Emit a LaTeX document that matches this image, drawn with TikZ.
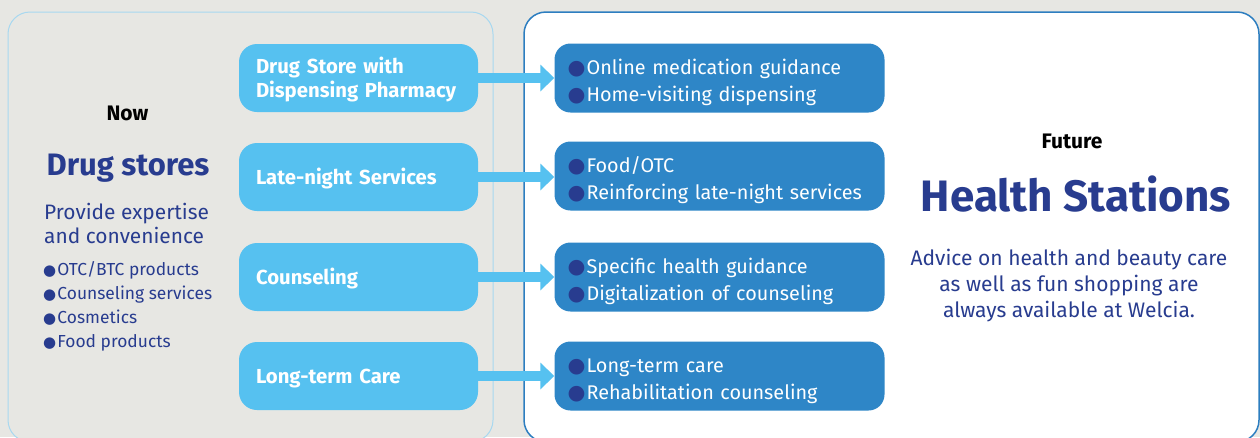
\documentclass[tikz,border=0pt]{standalone}
\usepackage{fontspec}
\setmainfont{Fira Sans}
\newfontfamily\dejavu{DejaVu Sans}
\usetikzlibrary{arrows.meta}
\definecolor{bg}{HTML}{E7E7E3}
\definecolor{lpanel}{HTML}{A8D8F0}
\definecolor{rpanel}{HTML}{2D7EC0}
\definecolor{lightb}{HTML}{56C1F0}
\definecolor{darkb}{HTML}{2E86C7}
\definecolor{navy}{HTML}{283C8F}
\newcommand\bigdot{{\color{navy}\dejavu\fontsize{20.5}{20.5}\selectfont ●}\hspace{1.2pt}}
\newcommand\smalldot{{\color{navy}\dejavu\fontsize{15}{15}\selectfont ●}\hspace{1.2pt}}
\begin{document}
\begin{tikzpicture}[x=1pt,y=-1pt,
  lbox/.style={fill=lightb, rounded corners=18pt, minimum width=239pt, minimum height=68pt,
    text width=205pt, inner xsep=17pt, align=left, text=white,
    text height=14pt, text depth=0pt,
    font=\bfseries\fontsize{20.3}{24}\selectfont},
  dbox/.style={fill=darkb, rounded corners=16pt, minimum width=330pt, minimum height=69pt,
    text width=304pt, inner xsep=13pt, align=left, text=white,
    text height=18pt, text depth=25pt,
    font=\fontsize{19.8}{26.5}\selectfont},
  conn/.style={draw=lightb, line width=10pt, -{Triangle[length=14pt,width=26pt]}},
  navytxt/.style={text=navy, inner sep=0pt},
]
\fill[bg] (0,0) rectangle (1260,437);
\useasboundingbox (0,0) rectangle (1260,437);
\draw[lpanel, line width=1pt, rounded corners=22pt, fill=bg] (8,12) rectangle (493,442);
\draw[rpanel, line width=1.5pt, rounded corners=22pt, fill=white] (524,12) rectangle (1259,442);

% left texts
\node[anchor=base, font=\bfseries\fontsize{21}{21}\selectfont, inner sep=0pt] (now) at (127.5,120) {Now};
\node[navytxt, anchor=base, font=\bfseries\fontsize{31}{31}\selectfont] (ds) at (128,175) {Drug stores};
\node[navytxt, anchor=base west, font=\fontsize{20.9}{20.9}\selectfont] (pe1) at (44,219) {Provide expertise};
\node[navytxt, anchor=base west, font=\fontsize{20.9}{20.9}\selectfont] (pe2) at (44,243) {and convenience};
\node[navytxt, anchor=base west, font=\fontsize{17.4}{17.4}\selectfont] (b1) at (43,275) {\smalldot OTC/BTC products};
\node[navytxt, anchor=base west, font=\fontsize{17.4}{17.4}\selectfont] (b2) at (43,299) {\smalldot Counseling services};
\node[navytxt, anchor=base west, font=\fontsize{17.4}{17.4}\selectfont] (b3) at (43,323) {\smalldot Cosmetics};
\node[navytxt, anchor=base west, font=\fontsize{17.4}{17.4}\selectfont] (b4) at (43,347) {\smalldot Food products};

% light boxes
\node[lbox, text depth=24pt] (l1) at (358.5,78) {\mbox{Drug Store with}\\\mbox{Dispensing Pharmacy}};
\node[lbox] (l2) at (358.5,177) {\mbox{Late-night Services}};
\node[lbox] (l3) at (358.5,277) {\mbox{Counseling}};
\node[lbox] (l4) at (358.5,376) {\mbox{Long-term Care}};

% dark boxes
\node[dbox] (d1) at (719.5,78) {\bigdot Online medication guidance\\\bigdot Home-visiting dispensing};
\node[dbox] (d2) at (719.5,176) {\bigdot Food/OTC\\\bigdot Reinforcing late-night services};
\node[dbox] (d3) at (719.5,277) {\bigdot Specific health guidance\\\bigdot Digitalization of counseling};
\node[dbox] (d4) at (719.5,376) {\bigdot Long-term care\\\bigdot Rehabilitation counseling};

% connectors
\draw[conn] (l1.east) -- (l1.east -| d1.west);
\draw[conn] (l2.east) -- (l2.east -| d2.west);
\draw[conn] (l3.east) -- (l3.east -| d3.west);
\draw[conn] (l4.east) -- (l4.east -| d4.west);

% right texts
\node[anchor=base, font=\bfseries\fontsize{21}{21}\selectfont, inner sep=0pt] (fut) at (1072,148) {Future};
\node[navytxt, anchor=base, font=\bfseries\fontsize{44}{44}\selectfont] (hs) at (1076,211) {Health Stations};
\node[navytxt, anchor=base, font=\fontsize{21}{21}\selectfont] (p1) at (1069,265) {Advice on health and beauty care};
\node[navytxt, anchor=base, font=\fontsize{21}{21}\selectfont] (p2) at (1069,291) {as well as fun shopping are};
\node[navytxt, anchor=base, font=\fontsize{21}{21}\selectfont] (p3) at (1069,317) {always available at Welcia.};
\end{tikzpicture}
\end{document}
